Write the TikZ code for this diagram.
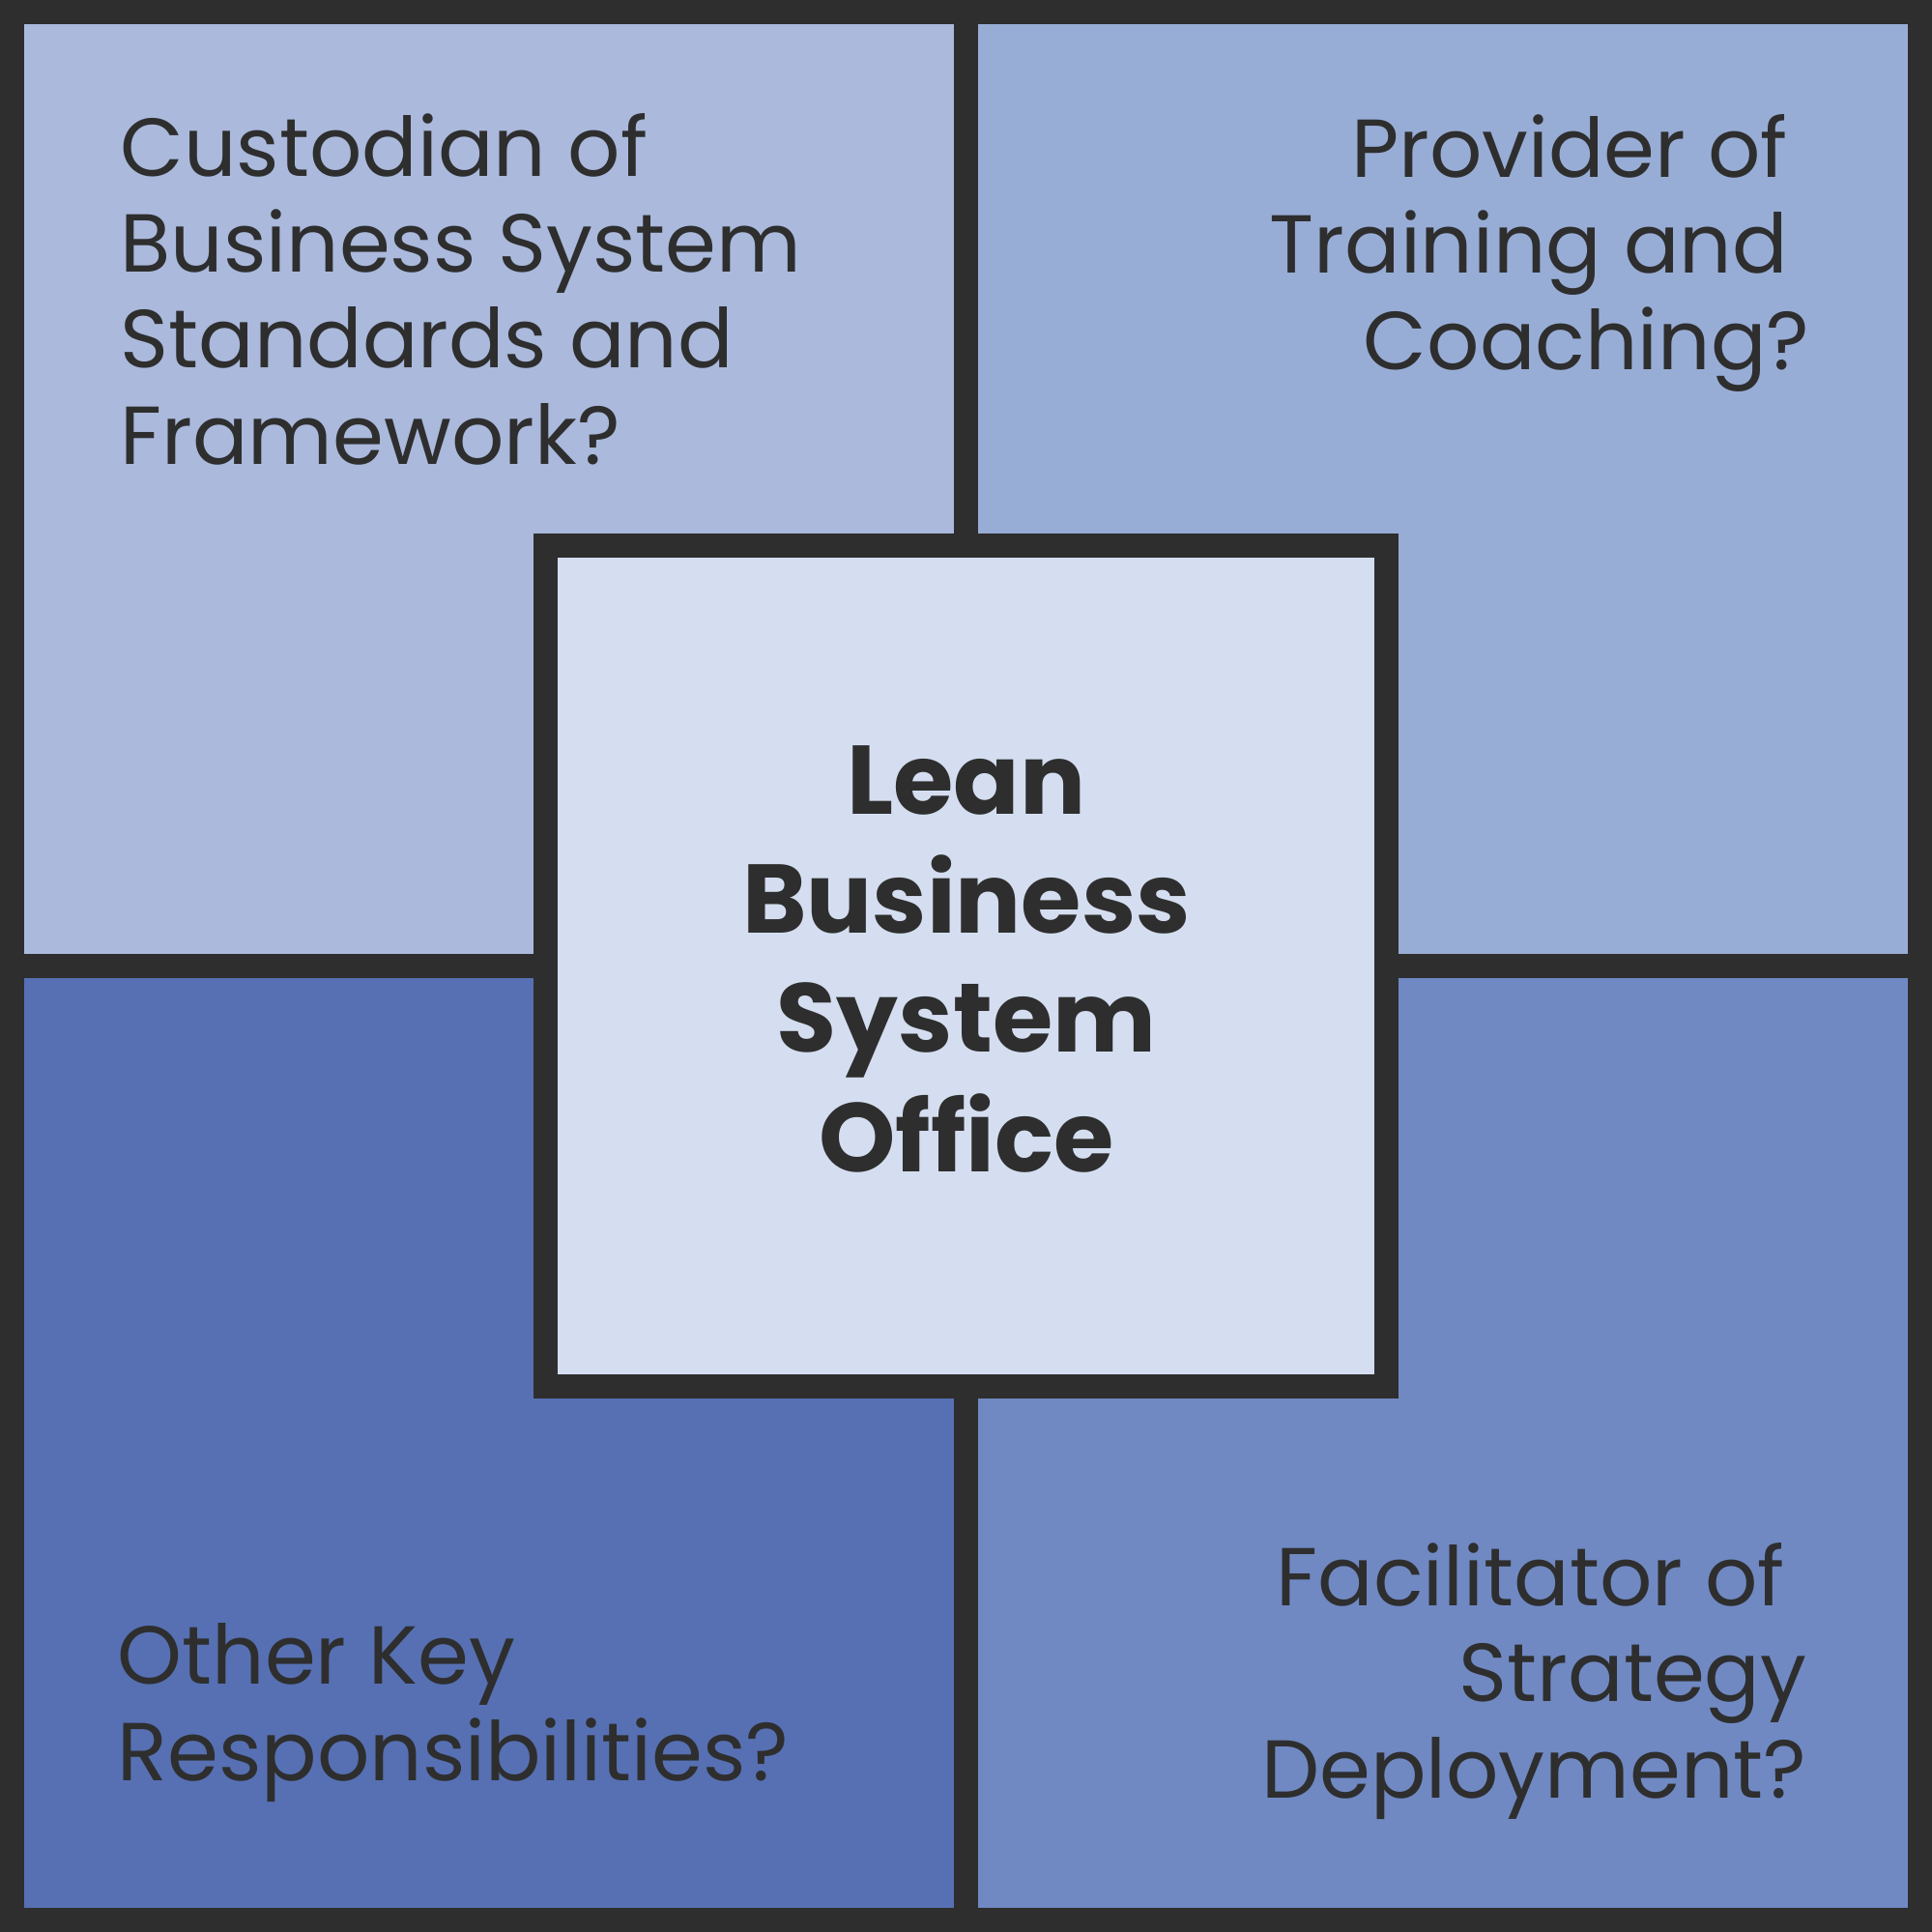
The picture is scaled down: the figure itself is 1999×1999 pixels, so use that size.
\documentclass[tikz,border=0pt]{standalone}
\usepackage{fontspec}
\setmainfont{Poppins}
\begin{document}
\begin{tikzpicture}[x=0.01cm,y=-0.01cm]
\newcommand{\tsp}{\hphantom{\ }}
\definecolor{framecolor}{RGB}{46,46,46}
\definecolor{q1color}{RGB}{170,185,220}
\definecolor{q2color}{RGB}{152,173,214}
\definecolor{q3color}{RGB}{86,112,179}
\definecolor{q4color}{RGB}{112,137,195}
\definecolor{centercolor}{RGB}{212,222,240}
\tikzstyle{quad}=[draw=framecolor,line width=0.25cm,minimum size=9.87cm,inner sep=0pt]
\tikzstyle{core}=[draw=framecolor,fill=centercolor,line width=0.25cm,minimum size=8.7cm,inner sep=0pt]
\tikzstyle{role}=[text=framecolor,inner sep=0pt,font=\fontsize{24.2}{28.2}\selectfont]
\tikzstyle{title}=[text=framecolor,inner sep=0pt,align=center,font=\fontsize{28.7}{35}\selectfont\bfseries]
\useasboundingbox (0,0) rectangle (1999,1999);
\node[quad,fill=q1color] (q1) at (506,506) {};
\node[quad,fill=q2color] (q2) at (1493,506) {};
\node[quad,fill=q3color] (q3) at (506,1493) {};
\node[quad,fill=q4color] (q4) at (1493,1493) {};
\node[core] (office) at (999.5,999.5) {};
% base anchor sits on the last line
\node[title,anchor=base] (officetext) at (1000,1212) {Lean\\Business\\System\\Office};
\node[role,align=left,anchor=base west] (custodian) at (124,480) {Custodian of\\Business System\\Standards and\\Framework?};
\node[role,align=right,anchor=base east] (provider) at (1873,382) {Provider of\tsp\\Training and\tsp\\Coaching?};
\node[role,align=left,anchor=base west] (other) at (121,1842) {Other Key\\Responsibilities?};
\node[role,align=right,anchor=base east] (facilitator) at (1870,1860) {Facilitator of\tsp\\Strategy\\Deployment?};
\end{tikzpicture}
\end{document}
